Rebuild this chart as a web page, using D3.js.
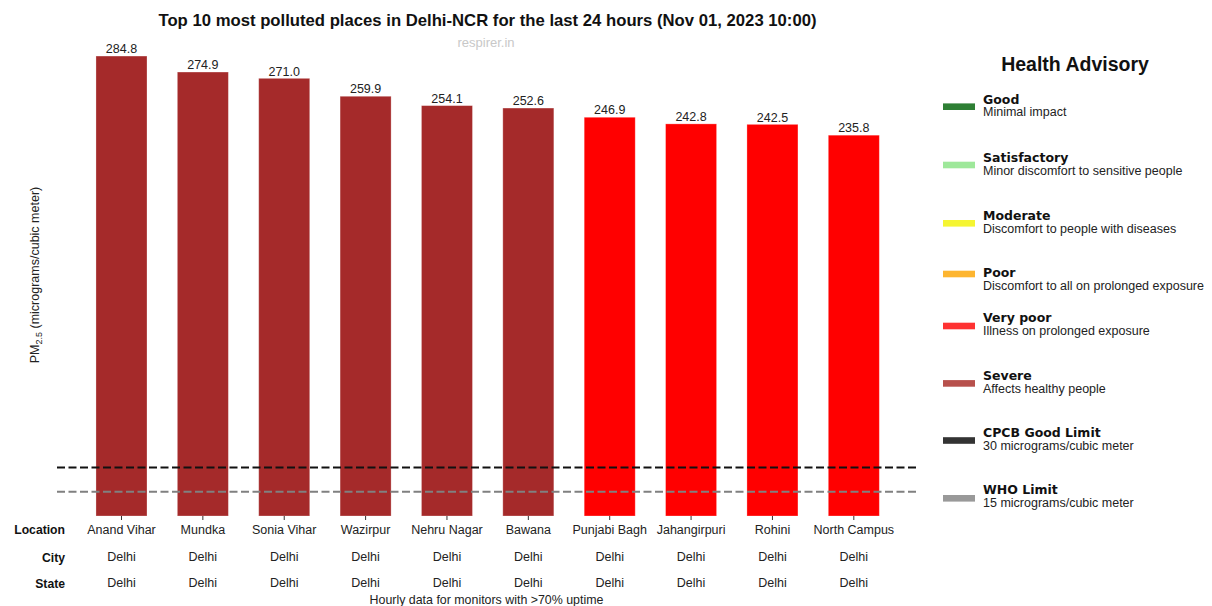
<!DOCTYPE html>
<html>
<head>
<meta charset="utf-8">
<script src="https://cdn.jsdelivr.net/npm/d3@7"></script>
<style>
  body { margin: 0; background: #fff; }
  text { font-family: "Liberation Sans", Arial, sans-serif; }
</style>
</head>
<body>
<div id="chart"></div>
<script>
// data
var locations = ["Anand Vihar", "Mundka", "Sonia Vihar", "Wazirpur", "Nehru Nagar",
                 "Bawana", "Punjabi Bagh", "Jahangirpuri", "Rohini", "North Campus"];
var cities = ["Delhi", "Delhi", "Delhi", "Delhi", "Delhi", "Delhi", "Delhi", "Delhi", "Delhi", "Delhi"];
var states = ["Delhi", "Delhi", "Delhi", "Delhi", "Delhi", "Delhi", "Delhi", "Delhi", "Delhi", "Delhi"];
var pm25 = [284.8, 274.9, 271.0, 259.9, 254.1, 252.6, 246.9, 242.8, 242.5, 235.8];
var categories = ["Severe", "Severe", "Severe", "Severe", "Severe", "Severe",
                  "Very poor", "Very poor", "Very poor", "Very poor"];
var limits = [30, 15];
var limitColors = ["#111111", "#808080"];

var advisoryNames = ["Good", "Satisfactory", "Moderate", "Poor", "Very poor", "Severe",
                     "CPCB Good Limit", "WHO Limit"];
var advisoryText = ["Minimal impact", "Minor discomfort to sensitive people",
                    "Discomfort to people with diseases", "Discomfort to all on prolonged exposure",
                    "Illness on prolonged exposure", "Affects healthy people",
                    "30 micrograms/cubic meter", "15 micrograms/cubic meter"];
var advisoryColors = ["#2e7f34", "#9ee89a", "#f5f532", "#fdb530", "#fe3232", "#b7504c",
                      "#333333", "#999999"];

var barColors = { "Severe": "#a52a2a", "Very poor": "#ff0000" };

var svgWidth = 1212;
var svgHeight = 606;

var svg = d3.select("#chart")
  .append("svg")
  .attr("width", svgWidth)
  .attr("height", svgHeight);

// scales
var xScale = d3.scaleBand()
  .domain(locations)
  .range([80.8, 894.5])
  .paddingInner(0.373)
  .paddingOuter(0.1865);

var yScale = d3.scaleLinear()
  .domain([0, 300])
  .range([516, 31.5]);

// title
svg.append("text")
  .attr("x", 487.5)
  .attr("y", 25.5)
  .attr("text-anchor", "middle")
  .style("font-size", "16.7px")
  .style("font-weight", "bold")
  .style("fill", "#111")
  .text("Top 10 most polluted places in Delhi-NCR for the last 24 hours (Nov 01, 2023 10:00)");

svg.append("text")
  .attr("x", 486)
  .attr("y", 46.5)
  .attr("text-anchor", "middle")
  .style("font-size", "13px")
  .style("fill", "#c8c8c8")
  .text("respirer.in");

// bars
svg.selectAll("rect.bar")
  .data(pm25)
  .enter()
  .append("rect")
  .attr("class", "bar")
  .attr("x", (d, i) => xScale(locations[i]))
  .attr("y", d => yScale(d))
  .attr("width", xScale.bandwidth())
  .attr("height", d => yScale(0) - yScale(d))
  .attr("fill", (d, i) => barColors[categories[i]])
  .attr("stroke", "rgba(255,255,255,0.35)")
  .attr("stroke-width", 0.8);

// value labels
svg.selectAll("text.val")
  .data(pm25)
  .enter()
  .append("text")
  .attr("class", "val")
  .attr("x", (d, i) => xScale(locations[i]) + xScale.bandwidth() / 2)
  .attr("y", d => yScale(d) - 2.8)
  .attr("text-anchor", "middle")
  .style("font-size", "12.5px")
  .style("fill", "#222")
  .text(d => d.toFixed(1));

// limit lines
svg.selectAll("line.limit")
  .data(limits)
  .enter()
  .append("line")
  .attr("class", "limit")
  .attr("x1", 57)
  .attr("x2", 918)
  .attr("y1", d => yScale(d))
  .attr("y2", d => yScale(d))
  .attr("stroke", (d, i) => limitColors[i])
  .attr("stroke-width", 2)
  .attr("stroke-dasharray", "8,3.5");

// x axis ticks + location labels
var bottomAxis = d3.axisBottom(xScale).tickSize(4).tickPadding(5);
var xAxis = svg.append("g")
  .attr("transform", `translate(0, ${yScale(0)})`)
  .call(bottomAxis);
xAxis.select(".domain").remove();
xAxis.selectAll(".tick line").attr("stroke", "#333");
xAxis.selectAll(".tick text")
  .style("font-size", "12.5px")
  .style("font-family", "'Liberation Sans', Arial, sans-serif")
  .style("fill", "#222");

// city and state rows
var rows = [cities, states];
var rowY = [561, 587];
rows.forEach(function(row, r) {
  svg.selectAll("text.row" + r)
    .data(row)
    .enter()
    .append("text")
    .attr("class", "row" + r)
    .attr("x", (d, i) => xScale(locations[i]) + xScale.bandwidth() / 2)
    .attr("y", rowY[r])
    .attr("text-anchor", "middle")
    .style("font-size", "12.5px")
    .style("fill", "#222")
    .text(d => d);
});

// row headers
var headers = ["Location", "City", "State"];
var headerY = [534, 562, 588];
svg.selectAll("text.head")
  .data(headers)
  .enter()
  .append("text")
  .attr("class", "head")
  .attr("x", 65)
  .attr("y", (d, i) => headerY[i])
  .attr("text-anchor", "end")
  .style("font-size", "12.2px")
  .style("font-weight", "bold")
  .style("fill", "#111")
  .text(d => d);

// footnote
svg.append("text")
  .attr("x", 486.5)
  .attr("y", 604)
  .attr("text-anchor", "middle")
  .style("font-size", "12.4px")
  .style("fill", "#222")
  .text("Hourly data for monitors with >70% uptime");

// y axis label
var yLabel = svg.append("text")
  .attr("transform", "translate(39, 275) rotate(-90)")
  .attr("text-anchor", "middle")
  .style("font-size", "12.5px")
  .style("fill", "#222");
yLabel.append("tspan").text("PM");
yLabel.append("tspan").attr("dy", 3).style("font-size", "9px").text("2.5");
yLabel.append("tspan").attr("dy", -3).text(" (micrograms/cubic meter)");

// legend
svg.append("text")
  .attr("x", 1075)
  .attr("y", 71)
  .attr("text-anchor", "middle")
  .style("font-size", "19.5px")
  .style("font-weight", "bold")
  .style("fill", "#111")
  .text("Health Advisory");

// legend layout: patch centres, label and description baselines
var patchY = [106.7, 165, 223.3, 274, 326, 383.4, 440.5, 498.3];
var labelY = [103.5, 161.5, 219.8, 277, 322, 380, 437.3, 494.3];
var descY  = [115.5, 174.8, 232.6, 290.3, 335.4, 392.6, 450.3, 507.4];

var legend = svg.selectAll("g.legend")
  .data(advisoryNames)
  .enter()
  .append("g")
  .attr("class", "legend");

legend.append("rect")
  .attr("x", 943)
  .attr("y", (d, i) => patchY[i] - 3.3)
  .attr("width", 32)
  .attr("height", 6.6)
  .attr("fill", (d, i) => advisoryColors[i]);

legend.append("text")
  .attr("x", 983)
  .attr("y", (d, i) => labelY[i])
  .style("font-family", "'DejaVu Sans', sans-serif")
  .style("font-size", "12.5px")
  .style("font-weight", "bold")
  .style("fill", "#111")
  .text(d => d);

legend.append("text")
  .attr("x", 983)
  .attr("y", (d, i) => descY[i])
  .style("font-size", "12.5px")
  .style("fill", "#222")
  .text((d, i) => advisoryText[i]);
</script>
</body>
</html>
